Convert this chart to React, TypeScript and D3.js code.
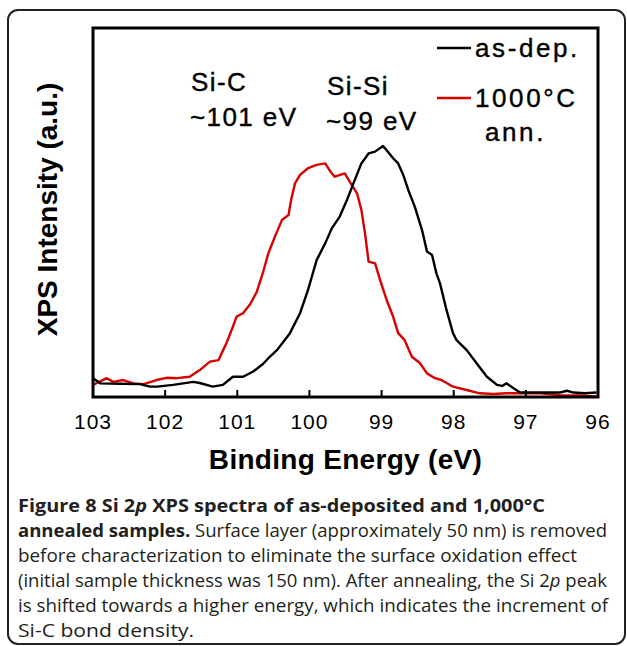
import * as d3 from "d3";

// as-deposited spectrum: binding energy (eV) and intensity (a.u.)
const asDepEnergy = [103.0, 102.9, 102.62, 102.35, 102.21, 102.11, 101.89, 101.61, 101.52, 101.34, 101.2, 101.06, 100.92, 100.78, 100.64, 100.55, 100.45, 100.36, 100.27, 100.13, 100.02, 99.9, 99.78, 99.69, 99.58, 99.48, 99.39, 99.28, 99.18, 99.09, 98.98, 98.93, 98.84, 98.77, 98.7, 98.63, 98.54, 98.44, 98.37, 98.3, 98.24, 98.19, 98.1, 98.01, 97.96, 97.82, 97.68, 97.54, 97.4, 97.33, 97.27, 97.17, 97.08, 96.8, 96.53, 96.43, 96.34, 96.18, 96.02];
const asDepIntensity = [5.1, 3.7, 3.6, 3.5, 2.8, 2.8, 3.3, 4.1, 3.8, 2.8, 3.3, 5.5, 5.5, 6.9, 9.0, 10.9, 12.7, 15.0, 17.3, 22.7, 29.0, 37.1, 41.7, 45.7, 48.9, 53.4, 57.9, 63.3, 66.0, 66.5, 68.0, 66.9, 64.7, 63.3, 60.2, 56.1, 51.6, 45.3, 39.4, 38.5, 33.5, 30.8, 23.6, 17.3, 15.4, 12.7, 9.1, 5.5, 3.3, 3.0, 3.7, 2.4, 1.2, 1.2, 1.2, 1.7, 1.2, 1.0, 1.2];

// 1000 C annealed spectrum
const annEnergy = [103.0, 102.81, 102.72, 102.58, 102.44, 102.3, 102.12, 101.98, 101.84, 101.66, 101.52, 101.38, 101.26, 101.15, 101.06, 101.01, 100.92, 100.82, 100.73, 100.64, 100.57, 100.48, 100.38, 100.29, 100.25, 100.2, 100.13, 100.02, 99.9, 99.78, 99.71, 99.65, 99.51, 99.44, 99.34, 99.28, 99.23, 99.18, 99.09, 99.02, 98.93, 98.84, 98.77, 98.68, 98.58, 98.47, 98.37, 98.26, 98.17, 98.01, 97.82, 97.64, 97.45, 97.27, 97.08, 96.8, 96.53, 96.25, 96.02];
const annIntensity = [3.3, 5.1, 4.1, 4.6, 3.7, 3.5, 4.6, 5.2, 5.1, 5.5, 7.3, 9.6, 10.0, 14.6, 19.1, 21.8, 22.7, 25.2, 28.5, 34.0, 38.9, 43.4, 48.0, 49.3, 53.8, 57.9, 60.2, 62.0, 62.9, 63.3, 61.1, 59.7, 60.6, 58.3, 55.2, 50.7, 44.4, 36.7, 36.2, 31.7, 26.3, 21.8, 17.3, 15.4, 10.9, 9.2, 6.4, 5.1, 4.6, 2.8, 1.9, 1.0, 0.8, 1.0, 1.0, 1.0, 0.5, 0.4, 0.1];

const xTicks = [103, 102, 101, 100, 99, 98, 97, 96];

const W = 627;
const H = 646;
const plot = { left: 93, right: 598, top: 28, bottom: 397 };
const RED = "#d90000";
const SANS = "Liberation Sans, Arial, sans-serif";
const CAP = "'Open Sans', sans-serif";

export default function App() {
  const x = d3.scaleLinear().domain([103, 96]).range([plot.left, plot.right]);
  const y = d3.scaleLinear().domain([0, 100]).range([plot.bottom, plot.top]);

  const line = d3
    .line<[number, number]>()
    .x((d) => x(d[0]))
    .y((d) => y(d[1]));

  const asDep = asDepEnergy.map((e, i) => [e, asDepIntensity[i]] as [number, number]);
  const ann = annEnergy.map((e, i) => [e, annIntensity[i]] as [number, number]);

  const capX = 18;

  return (
    <svg
      width={W}
      height={H}
      style={{ position: "absolute", left: 0, top: 0, background: "#fff" }}
    >
      <rect x={8} y={10} width={617} height={634} rx={10} fill="none" stroke="#222" strokeWidth={2} />

      {/* curves */}
      <path d={line(ann) || ""} fill="none" stroke={RED} strokeWidth={2.4} strokeLinejoin="round" />
      <path d={line(asDep) || ""} fill="none" stroke="#000" strokeWidth={2.4} strokeLinejoin="round" />

      {/* frame */}
      <rect
        x={plot.left}
        y={plot.top}
        width={plot.right - plot.left}
        height={plot.bottom - plot.top}
        fill="none"
        stroke="#000"
        strokeWidth={3}
      />
      {xTicks.map((t) => (
        <g key={t}>
          <line x1={x(t)} x2={x(t)} y1={plot.bottom} y2={plot.bottom - 7} stroke="#000" strokeWidth={2} />
          <text x={x(t)} y={429} textAnchor="middle" fontFamily={SANS} fontSize={21} letterSpacing={1}>
            {t}
          </text>
        </g>
      ))}

      <text x={(plot.left + plot.right) / 2} y={469} textAnchor="middle" fontFamily={SANS} fontSize={28} fontWeight="bold" letterSpacing={0.3}>
        Binding Energy (eV)
      </text>
      <text
        transform={`translate(57,${(plot.top + plot.bottom) / 2 - 3}) rotate(-90)`}
        textAnchor="middle"
        fontFamily={SANS}
        fontSize={28}
        fontWeight="bold"
      >
        XPS Intensity (a.u.)
      </text>

      {/* peak labels */}
      <g fontFamily={SANS} fontSize={26} letterSpacing={1.4} stroke="#000" strokeWidth={0.4}>
        <text x={191} y={91}>Si-C</text>
        <text x={190} y={126}>~101 eV</text>
        <text x={327} y={95}>Si-Si</text>
        <text x={326} y={130}>~99 eV</text>
      </g>

      {/* legend */}
      <g fontFamily={SANS} fontSize={26} letterSpacing={2.6} stroke="#000" strokeWidth={0.4}>
        <line x1={437} x2={471} y1={48} y2={48} stroke="#000" strokeWidth={2.4} />
        <text x={475} y={57}>as-dep.</text>
        <line x1={437} x2={471} y1={98} y2={98} stroke={RED} strokeWidth={2.4} />
        <text x={475} y={107}>1000°C</text>
        <text x={485} y={141}>ann.</text>
      </g>

      {/* caption */}
      <g fontFamily={CAP} fontSize={18} fill="#231f20">
        <text x={capX} y={512} fontWeight="bold" textLength={545 - capX} lengthAdjust="spacingAndGlyphs">
          Figure 8 Si 2<tspan fontStyle="italic">p</tspan> XPS spectra of as-deposited and 1,000°C
        </text>
        <text x={capX} y={537} textLength={607 - capX} lengthAdjust="spacingAndGlyphs">
          <tspan fontWeight="bold">annealed samples.</tspan> Surface layer (approximately 50 nm) is removed
        </text>
        <text x={capX} y={562} textLength={577 - capX} lengthAdjust="spacingAndGlyphs">
          before characterization to eliminate the surface oxidation effect
        </text>
        <text x={capX} y={587} textLength={607 - capX} lengthAdjust="spacingAndGlyphs">
          (initial sample thickness was 150 nm). After annealing, the Si 2<tspan fontStyle="italic">p</tspan> peak
        </text>
        <text x={capX} y={612} textLength={608 - capX} lengthAdjust="spacingAndGlyphs">
          is shifted towards a higher energy, which indicates the increment of
        </text>
        <text x={capX} y={637} textLength={194 - capX} lengthAdjust="spacingAndGlyphs">
          Si-C bond density.
        </text>
      </g>
    </svg>
  );
}
